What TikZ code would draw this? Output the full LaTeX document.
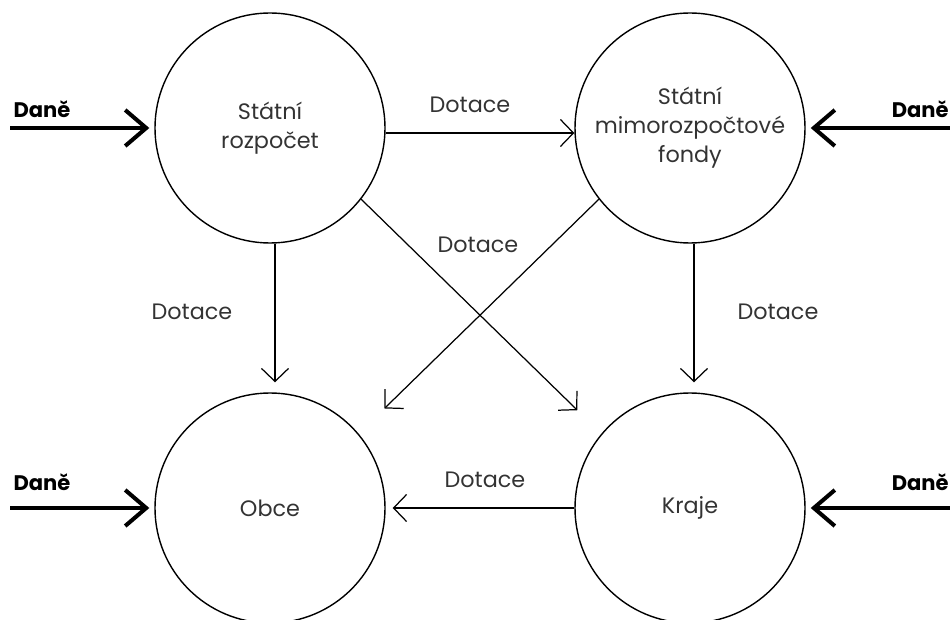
\documentclass[tikz,border=0pt]{standalone}
\usepackage{fontspec}
\setmainfont{Poppins}
\usetikzlibrary{arrows.meta}
\tikzset{
  fond/.style={draw,circle,line width=0.8pt,minimum size=4.6cm,align=center,text=black!80,font=\fontsize{12.7}{16.5}\selectfont},
  tok/.style={line width=0.7pt,-{Straight Barb[length=2.6mm,width=5.4mm]}},
  dan/.style={line width=2.3pt,-{Straight Barb[length=4.2mm,width=7.2mm]}},
  lab/.style={text=black!80,font=\fontsize{12.7}{15}\selectfont},
  dlab/.style={font=\fontsize{12}{14}\selectfont\bfseries}
}
\begin{document}
\begin{tikzpicture}
\useasboundingbox (0,0) rectangle (19,12.38);
\node[fond] (R) at (5.4,9.82){Státní\\rozpočet};
\node[fond] (F) at (13.8,9.82){Státní\\mimorozpočtové\\fondy};
\node[fond] (O) at (5.4,2.22){Obce};
\node[fond] (K) at (13.8,2.22){Kraje};
% dane
\coordinate (dR) at (0.2,9.82);
\coordinate (dF) at (19,9.82);
\coordinate (dO) at (0.2,2.22);
\coordinate (dK) at (19,2.22);
\draw [dan,shorten >=1mm](dR) -- (R.west);
\node[dlab] at (0.84,10.2) {Daně};
\draw [dan,shorten >=1mm](dF) -- (F.east);
\node[dlab,anchor=east,inner xsep=0pt] at (18.98,10.2) {Daně};
\draw [dan,shorten >=1mm](dO) -- (O.west);
\node[dlab] at (0.84,2.74) {Daně};
\draw [dan,shorten >=1mm](dK) -- (K.east);
\node[dlab,anchor=east,inner xsep=0pt] at (18.98,2.74) {Daně};
% dotace
\draw [tok]([yshift=-1mm]R.east) -- ([yshift=-1mm]F.west);
\node[lab] at (9.4,10.28) {Dotace};
\draw [tok,shorten >=2mm]([xshift=1mm]R.south) -- ([xshift=1mm]O.north);
\node[lab] at (3.84,6.14) {Dotace};
\draw [tok,shorten >=2mm]([xshift=0.8mm]F.south) -- ([xshift=0.8mm]K.north);
\node[lab] at (15.56,6.14) {Dotace};
\draw [tok,shorten >=6.7mm](R.-38) -- (K.140);
\draw [tok,shorten >=7.2mm](F.218) -- (O.40);
\node[lab] at (9.56,7.48) {Dotace};
\draw [tok,shorten >=1.4mm](K.west) -- (O.east);
\node[lab] at (9.7,2.78) {Dotace};
\end{tikzpicture}
\end{document}
